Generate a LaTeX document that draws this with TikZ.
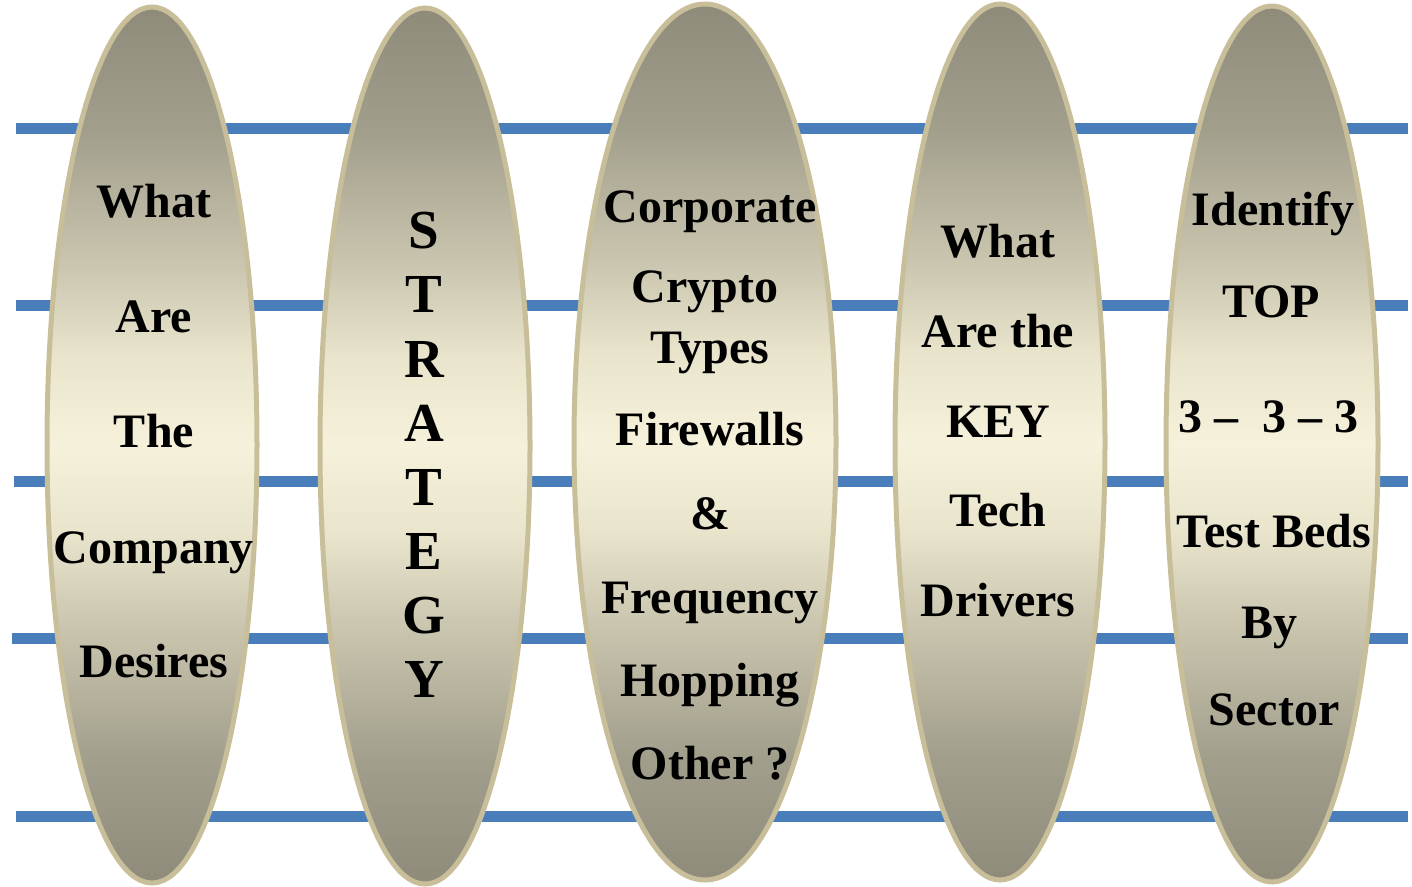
\documentclass[tikz,border=0pt]{standalone}
\usepackage{fontspec}
\setmainfont{Liberation Serif}
\usetikzlibrary{shapes.geometric}
\definecolor{bandblue}{HTML}{4A7EBB}
\definecolor{rimtan}{HTML}{C8BF9A}
\pgfdeclareverticalshading{ovalshade}{100bp}{%
  rgb(0bp)=(0.557,0.545,0.482);
  rgb(25bp)=(0.557,0.545,0.482);
  rgb(32bp)=(0.631,0.620,0.549);
  rgb(40bp)=(0.800,0.780,0.690);
  rgb(45bp)=(0.915,0.895,0.800);
  rgb(50bp)=(0.965,0.945,0.855);
  rgb(55bp)=(0.915,0.895,0.800);
  rgb(60bp)=(0.800,0.780,0.690);
  rgb(68bp)=(0.631,0.620,0.549);
  rgb(75bp)=(0.557,0.545,0.482);
  rgb(100bp)=(0.557,0.545,0.482)}
\tikzset{
  band/.style={draw=bandblue, line width=11pt},
  oval/.style={ellipse, draw=rimtan, line width=5pt, inner sep=0pt,
    minimum width=210pt, minimum height=876pt, shading=ovalshade},
  word/.style={anchor=base, inner sep=0pt, font=\bfseries\fontsize{48}{56}\selectfont},
  bigletter/.style={word, font=\bfseries\fontsize{55}{60}\selectfont}
}
\begin{document}
\begin{tikzpicture}[x=1pt, y=-1pt]
\useasboundingbox (0,0) rectangle (1412,886);
% background bands
\draw[band] (16,128) -- (1408,128);
\draw[band] (16,305) -- (1408,305);
\draw[band] (14,481) -- (1408,481);
\draw[band] (12,638) -- (1408,638);
\draw[band] (16,816) -- (1408,816);
% ovals
\node[oval] (o1) at (152,445) {};
\node[oval] (o2) at (425,446) {};
\node[oval, minimum width=262pt] (o3) at (705,442) {};
\node[oval] (o4) at (1000,442) {};
\node[oval, minimum width=212pt] (o5) at (1272,444) {};
% column 1
\node[word] (a1) at (154,217) {What};
\node[word] (a2) at (154,332) {Are};
\node[word] (a3) at (154,447) {The};
\node[word] (a4) at (154,563) {Company};
\node[word] (a5) at (154,677) {Desires};
% column 2
\node[bigletter] (b1) at (424,248) {S};
\node[bigletter] (b2) at (424,312) {T};
\node[bigletter] (b3) at (424,377) {R};
\node[bigletter] (b4) at (424,441) {A};
\node[bigletter] (b5) at (424,505) {T};
\node[bigletter] (b6) at (424,569) {E};
\node[bigletter] (b7) at (424,633) {G};
\node[bigletter] (b8) at (424,697) {Y};
% column 3
\node[word] (c1) at (710,222) {Corporate};
\node[word] (c2) at (705,302) {Crypto};
\node[word] (c3) at (710,363) {Types};
\node[word] (c4) at (710,445) {Firewalls};
\node[word] (c5) at (710,529) {\&};
\node[word] (c6) at (710,613) {Frequency};
\node[word] (c7) at (710,696) {Hopping};
\node[word] (c8) at (710,779) {Other ?};
% column 4
\node[word] (d1) at (998,257) {What};
\node[word] (d2) at (998,347) {Are the};
\node[word] (d3) at (998,437) {KEY};
\node[word] (d4) at (998,526) {Tech};
\node[word] (d5) at (998,616) {Drivers};
% column 5
\node[word] (e1) at (1273,225) {Identify};
\node[word] (e2) at (1271,317) {TOP};
\node[word] (e3) at (1268,432) {3 –\ \ 3 – 3};
\node[word] (e4) at (1274,547) {Test Beds};
\node[word] (e5) at (1269,638) {By};
\node[word] (e6) at (1274,725) {Sector};
\end{tikzpicture}
\end{document}
